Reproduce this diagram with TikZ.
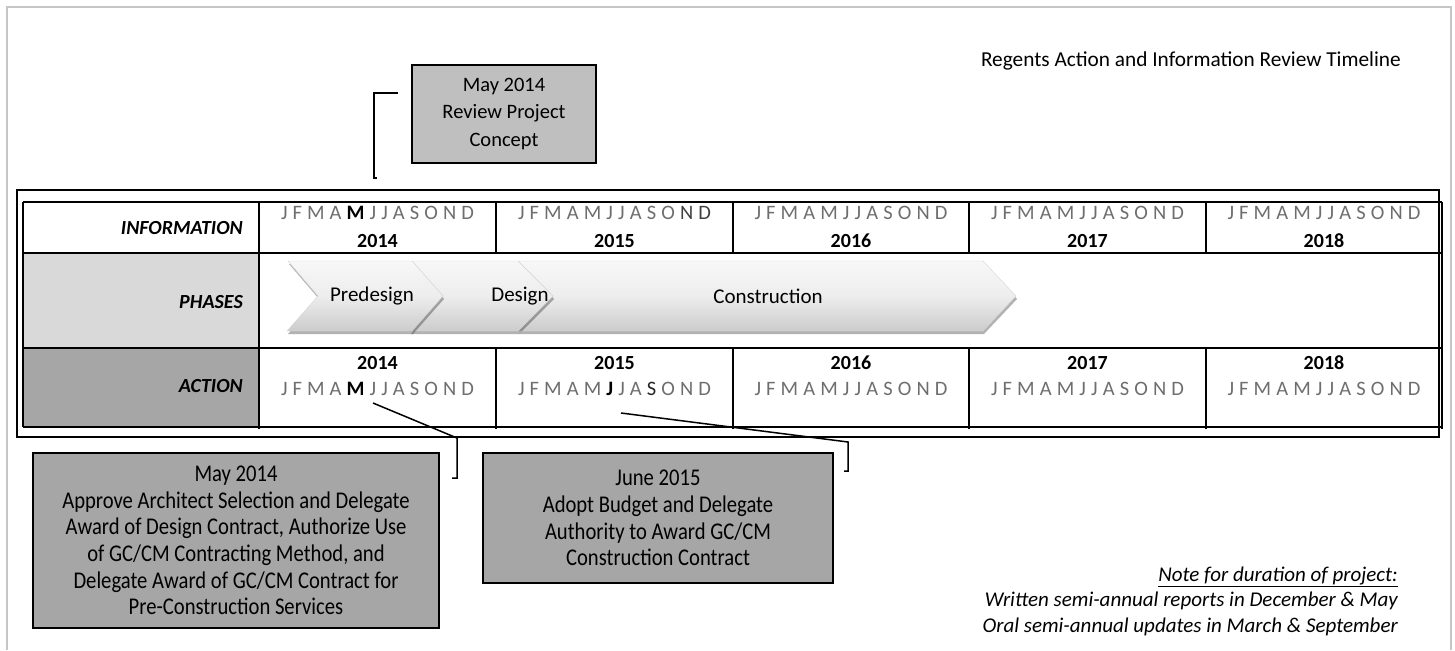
\documentclass[tikz,border=0pt]{standalone}
\usepackage{fontspec}
\setmainfont{Carlito}
\newfontfamily\condfont{Carlito}[FakeStretch=0.86]
\usetikzlibrary{shadows}
\definecolor{framegray}{RGB}{198,198,198}
\definecolor{monthgray}{RGB}{110,110,110}
\definecolor{phasecell}{RGB}{217,217,217}
\definecolor{actcell}{RGB}{166,166,166}
\definecolor{topbox}{RGB}{191,191,191}
\definecolor{botbox}{RGB}{166,166,166}
\newcommand\mrow[1]{\makebox[193pt][s]{#1}}
\newcommand\bmo[1]{\textcolor{black}{\bfseries #1}}
\newcommand\allm{J\hfill F\hfill M\hfill A\hfill M\hfill J\hfill J\hfill A\hfill S\hfill O\hfill N\hfill D}
\tikzset{
  lab/.style={anchor=east, inner sep=0pt, font=\fontsize{20}{24}\selectfont\bfseries\itshape},
  mon/.style={anchor=base, inner sep=0pt, text=monthgray, font=\fontsize{20.5}{24}\selectfont},
  yr/.style={anchor=base, inner sep=0pt, font=\fontsize{20}{24}\selectfont\bfseries},
  grid/.style={line width=1.5pt},
  phase/.style={top color=white!97!black, bottom color=white!80!black, middle color=white!93!black,
     draw=white!84!black, line width=0.4pt,
     drop shadow={shadow xshift=1pt, shadow yshift=-3pt, opacity=0.3, fill=black}},
  phtext/.style={inner sep=0pt, font=\fontsize{21}{24}\selectfont},
  callout/.style={draw=black, line width=1.8pt, align=center, inner sep=0pt},
  brk/.style={line width=1.5pt}
}
\begin{document}
\begin{tikzpicture}[x=1pt,y=-1pt]
\useasboundingbox (0,0) rectangle (1455,650);
% page frame
\draw[framegray, line width=2pt] (7,650) -- (7,7) -- (1451,7) -- (1451,650);
% title
\node[anchor=east, inner sep=0pt, font=\fontsize{21.3}{24}\selectfont] (title) at (1401,61) {Regents Action and Information Review Timeline};
% top callout
\node[callout, fill=topbox, minimum width=184pt, minimum height=98pt, font=\fontsize{20.5}{27.5}\selectfont] (cb0) at (504,114) {May 2014\\Review Project\\Concept};
% outer black frame
\draw[line width=2pt] (17,190) rectangle (1439,437);
% cell fills
\fill[phasecell] (23,253) rectangle (259,348);
\fill[actcell] (23,348) rectangle (259,427);
% grid
\draw[grid] (23,202) -- (1442,202);
\draw[grid] (23,253) -- (1442,253);
\draw[grid] (23,348) -- (1442,348);
\draw[grid] (23,427) -- (1442,427);
\draw[grid] (23,202) -- (23,427);
\draw[grid] (1442,202) -- (1442,429);
\draw[grid] (259,202) -- (259,429);
\foreach \x in {496,733,969,1206}{
  \draw[grid] (\x,202) -- (\x,253);
  \draw[grid] (\x,348) -- (\x,429);
}
% labels
\node[lab] (linfo) at (243,228) {INFORMATION};
\node[lab] (lphase) at (243,302) {PHASES};
\node[lab] (lact) at (243,386) {ACTION};
% information row
\node[mon] (im14) at (377.5,219) {\mrow{J\hfill F\hfill M\hfill A\hfill \bmo{M}\hfill J\hfill J\hfill A\hfill S\hfill O\hfill N\hfill D}};
\node[mon] (im15) at (614.5,219) {\mrow{J\hfill F\hfill M\hfill A\hfill M\hfill J\hfill J\hfill A\hfill S\hfill O\hfill \textcolor{black!75}{N}\hfill \textcolor{black!75}{D}}};
\node[mon] (im16) at (851,219) {\mrow{\allm}};
\node[mon] (im17) at (1087.5,219) {\mrow{\allm}};
\node[mon] (im18) at (1324,219) {\mrow{\allm}};
\node[yr] (iy14) at (377.5,247) {2014};
\node[yr] (iy15) at (614.5,247) {2015};
\node[yr] (iy16) at (851,247) {2016};
\node[yr] (iy17) at (1087.5,247) {2017};
\node[yr] (iy18) at (1324,247) {2018};
% action row
\node[yr] (ay14) at (377.5,369) {2014};
\node[yr] (ay15) at (614.5,369) {2015};
\node[yr] (ay16) at (851,369) {2016};
\node[yr] (ay17) at (1087.5,369) {2017};
\node[yr] (ay18) at (1324,369) {2018};
\node[mon] (am14) at (377.5,395) {\mrow{J\hfill F\hfill M\hfill A\hfill \bmo{M}\hfill J\hfill J\hfill A\hfill S\hfill O\hfill N\hfill D}};
\node[mon] (am15) at (614.5,395) {\mrow{J\hfill F\hfill M\hfill A\hfill M\hfill \bmo{J}\hfill J\hfill A\hfill \textcolor{black!85}{S}\hfill O\hfill N\hfill D}};
\node[mon] (am16) at (851,395) {\mrow{\allm}};
\node[mon] (am17) at (1087.5,395) {\mrow{\allm}};
\node[mon] (am18) at (1324,395) {\mrow{\allm}};
% phases chevrons
\path[phase] (518,261) -- (983,261) -- (1016,296) -- (983,331) -- (518,331) -- (553,296) -- cycle;
\path[phase] (412,261) -- (518,261) -- (553,296) -- (518,331) -- (410,331) -- (443,296) -- cycle;
\path[phase] (288,261) -- (412,261) -- (443,296) -- (412,331) -- (287,331) -- (318,296) -- cycle;
\node[phtext] (pre) at (372,296) {Predesign};
\node[phtext] (des) at (520,296) {Design};
\node[phtext] (con) at (768,296) {Construction};
% bottom callouts
\node[callout, fill=botbox, minimum width=406pt, minimum height=175pt, font=\condfont\fontsize{24}{26.6}\selectfont] (cb1) at (236,540.5)
  {May 2014\\Approve Architect Selection and Delegate\\Award of Design Contract, Authorize Use\\of GC/CM Contracting Method, and\\Delegate Award of GC/CM Contract for\\Pre-Construction Services};
\node[callout, fill=botbox, minimum width=350pt, minimum height=130pt, font=\condfont\fontsize{24}{26.6}\selectfont] (cb2) at (658,518)
  {June 2015\\Adopt Budget and Delegate\\Authority to Award GC/CM\\Construction Contract};
% brackets
\coordinate (t0) at (398,93);
\coordinate (t1) at (374,178);
\draw[brk] (t0) -- (374,93) -- (t1) -- ++(3,0);
\coordinate (m1) at (373,403);
\coordinate (k1) at (457,438);
\coordinate (e1) at (457,478);
\draw[brk] (m1) -- (k1) -- (e1) -- ++(-5,0);
\coordinate (m2) at (621,413);
\coordinate (k2) at (848,442);
\coordinate (e2) at (848,471);
\draw[brk] (m2) -- (k2) -- (e2) -- ++(-4,0);
% note
\node[anchor=east, align=right, inner sep=0pt, font=\fontsize{21}{25.5}\selectfont\itshape] (note) at (1398,601)
  {\underline{Note for duration of project:}\\Written semi-annual reports in December \& May\\Oral semi-annual updates in March \& September};
\end{tikzpicture}
\end{document}
